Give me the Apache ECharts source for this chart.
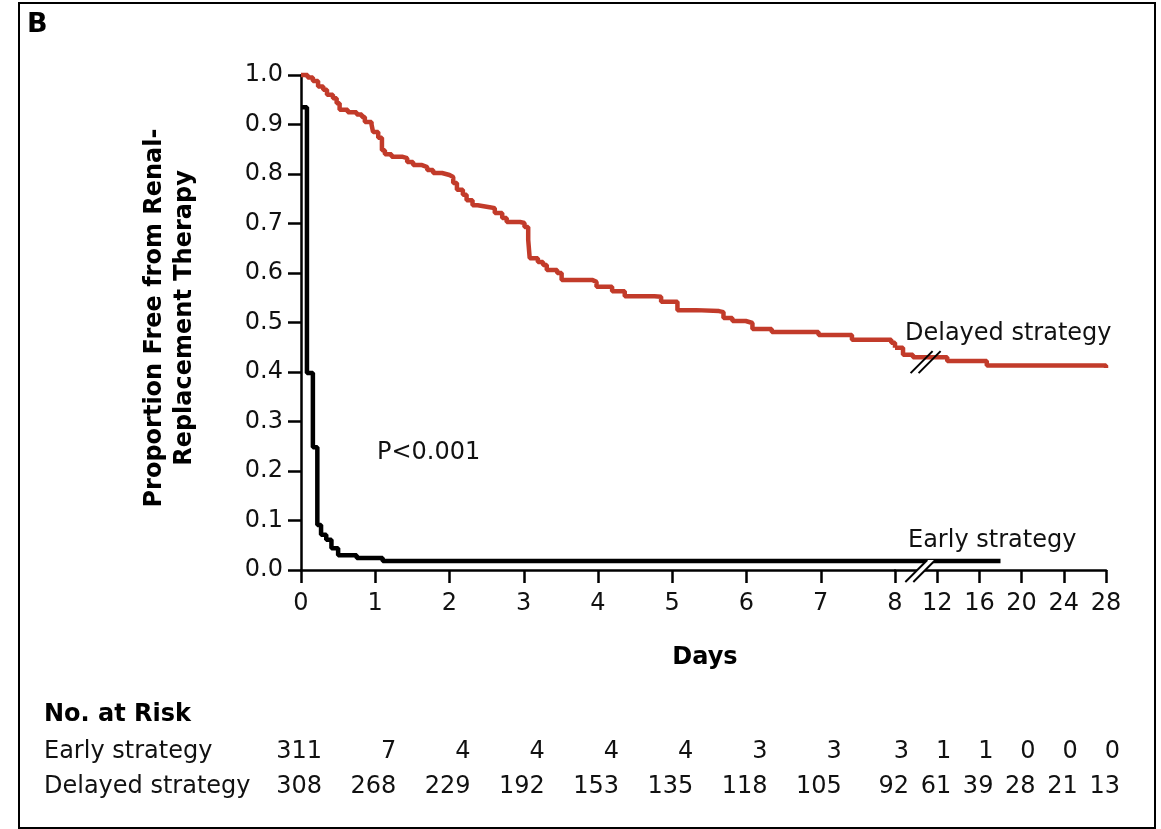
<!DOCTYPE html>
<html>
<head>
<meta charset="utf-8">
<script src="https://cdn.jsdelivr.net/npm/echarts@6/dist/echarts.min.js"></script>
<style>
html,body{margin:0;padding:0;background:#fff;}
#chart{width:1161px;height:829px;}
</style>
</head>
<body>
<div id="chart"></div>
<script>
// ---- Data ----
const riskDays = [0, 1, 2, 3, 4, 5, 6, 7, 8, 12, 16, 20, 24, 28];
const earlyAtRisk = [311, 7, 4, 4, 4, 4, 3, 3, 3, 1, 1, 0, 0, 0];
const delayedAtRisk = [308, 268, 229, 192, 153, 135, 118, 105, 92, 61, 39, 28, 21, 13];

// Kaplan-Meier points: [day of drop, proportion after drop]
const delayedCurve = [
  [0, 1.0], [0.09, 0.995], [0.16, 0.988], [0.23, 0.977], [0.30, 0.97], [0.35, 0.96],
  [0.43, 0.953], [0.48, 0.943], [0.52, 0.93], [0.63, 0.925], [0.75, 0.92], [0.82, 0.915],
  [0.86, 0.905], [0.95, 0.9], [0.97, 0.885], [1.04, 0.873], [1.09, 0.848], [1.13, 0.84],
  [1.22, 0.835], [1.36, 0.832], [1.43, 0.824], [1.51, 0.818], [1.63, 0.814], [1.70, 0.808],
  [1.78, 0.802], [1.90, 0.798], [2.0, 0.794], [2.05, 0.782], [2.10, 0.768], [2.18, 0.758],
  [2.23, 0.747], [2.31, 0.737], [2.38, 0.733], [2.54, 0.731], [2.61, 0.721], [2.71, 0.711],
  [2.77, 0.703], [2.95, 0.701], [3.01, 0.693], [3.06, 0.667], [3.08, 0.63], [3.19, 0.622],
  [3.26, 0.616], [3.31, 0.606], [3.45, 0.60], [3.51, 0.586], [3.92, 0.582], [3.98, 0.572],
  [4.19, 0.563], [4.36, 0.553], [4.76, 0.552], [4.85, 0.542], [5.07, 0.525], [5.32, 0.523],
  [5.63, 0.521], [5.69, 0.509], [5.81, 0.503], [5.99, 0.499], [6.08, 0.487], [6.34, 0.481],
  [6.97, 0.475], [7.42, 0.465], [7.95, 0.459], [8.0, 0.449], [8.76, 0.435], [9.7, 0.43],
  [12.95, 0.422], [16.7, 0.413], [28, 0.408]
];
const earlyCurve = [
  [0, 0.935], [0.08, 0.398], [0.16, 0.248], [0.22, 0.091],
  [0.27, 0.071], [0.34, 0.061], [0.41, 0.044], [0.5, 0.03], [0.75, 0.024], [1.1, 0.018],
  [18, 0.018]
];

const BREAK = 8;          // axis changes scale after day 8
const AXIS_BREAK_DAY = 10.4;
const CURVE_BREAK_DAY = 10.9;

const FONT = '"DejaVu Sans", sans-serif';
const FS = 24;
const TXT = '#111';
const RED = '#c23b2a';

function splitCurve(pts, b) {
  const left = [], right = [];
  let last = pts[0][1];
  for (const p of pts) {
    if (p[0] <= b) { left.push(p); last = p[1]; }
  }
  left.push([b, last]);
  right.push([b, last]);
  for (const p of pts) if (p[0] > b) right.push(p);
  return [left, right];
}
const [delL, delR] = splitCurve(delayedCurve, BREAK);
const [earL, earR] = splitCurve(earlyCurve, BREAK);

const chart = echarts.init(document.getElementById('chart'));

const axisLine = { lineStyle: { color: '#000', width: 2.5 } };
const axisTick = { inside: false, length: 13, lineStyle: { color: '#000', width: 2.5 } };
const axisLabel = { fontSize: FS, color: TXT, fontFamily: FONT, margin: 22 };

chart.setOption({
  animation: false,
  grid: [
    { left: 301, top: 75, width: 594, height: 495 },
    { left: 895, top: 75, width: 211, height: 495 }
  ],
  xAxis: [
    { type: 'value', gridIndex: 0, min: 0, max: BREAK, interval: 1,
      axisLine, axisTick, axisLabel, splitLine: { show: false } },
    { type: 'value', gridIndex: 1, min: BREAK, max: 28, interval: 4,
      axisLine, axisTick, axisLabel: Object.assign({}, axisLabel, { showMinLabel: false }),
      splitLine: { show: false } }
  ],
  yAxis: [
    { type: 'value', gridIndex: 0, min: 0, max: 1, interval: 0.1,
      axisLine: { show: true, lineStyle: { color: '#000', width: 2.5 } }, axisTick,
      axisLabel: Object.assign({}, axisLabel, { margin: 18, formatter: v => v.toFixed(1) }),
      splitLine: { show: false } },
    { type: 'value', gridIndex: 1, min: 0, max: 1, show: false, splitLine: { show: false } }
  ],
  series: [
    { type: 'line', xAxisIndex: 0, yAxisIndex: 0, data: delL, step: 'end', symbol: 'none',
      clip: false, lineStyle: { color: RED, width: 4.5 }, z: 3 },
    { type: 'line', xAxisIndex: 1, yAxisIndex: 1, data: delR, step: 'end', symbol: 'none',
      clip: false, lineStyle: { color: RED, width: 4.5 }, z: 3 },
    { type: 'line', xAxisIndex: 0, yAxisIndex: 0, data: earL, step: 'end', symbol: 'none',
      clip: false, lineStyle: { color: '#000', width: 4.5 }, z: 4 },
    { type: 'line', xAxisIndex: 1, yAxisIndex: 1, data: earR, step: 'end', symbol: 'none',
      clip: false, lineStyle: { color: '#000', width: 4.5 }, z: 4 }
  ]
});

function breakMark(cx, cy, eraseColor) {
  const h = 11, d = 4;
  const els = [];
  els.push({ type: 'polygon', z: 50, shape: { points: [
      [cx - d - h, cy + h], [cx - d + h, cy - h], [cx + d + h, cy - h], [cx + d - h, cy + h]] },
    style: { fill: eraseColor } });
  [-d, d].forEach(o => {
    els.push({ type: 'line', z: 51, shape: { x1: cx + o - h, y1: cy + h, x2: cx + o + h, y2: cy - h },
      style: { stroke: '#000', lineWidth: 2 } });
  });
  return els;
}

const gfx = [];
// frame
gfx.push({ type: 'rect', z: 0, shape: { x: 19, y: 3, width: 1136, height: 825 },
  style: { fill: 'none', stroke: '#000', lineWidth: 2 } });
gfx.push({ type: 'text', z: 60, style: { text: 'B', x: 27, y: 25, font: 'bold 27px ' + FONT, fill: '#000', verticalAlign: 'middle' } });
// y axis title
gfx.push({ type: 'text', z: 60, x: 170, y: 318, rotation: Math.PI / 2,
  style: { text: 'Proportion Free from Renal-\nReplacement Therapy', font: 'bold 24px ' + FONT, fill: '#000',
    align: 'center', verticalAlign: 'middle', lineHeight: 30 } });
// x axis title
gfx.push({ type: 'text', z: 60, style: { text: 'Days', x: 705, y: 658, font: 'bold 24px ' + FONT, fill: '#000', align: 'center', verticalAlign: 'middle' } });
// annotations
gfx.push({ type: 'text', z: 60, style: { text: 'P<0.001', x: 377, y: 453, font: FS + 'px ' + FONT, fill: TXT, verticalAlign: 'middle' } });
gfx.push({ type: 'text', z: 60, style: { text: 'Delayed strategy', x: 905, y: 334, font: FS + 'px ' + FONT, fill: TXT, verticalAlign: 'middle' } });
gfx.push({ type: 'text', z: 60, style: { text: 'Early strategy', x: 908, y: 541, font: FS + 'px ' + FONT, fill: TXT, verticalAlign: 'middle' } });

// break marks
const axPt = chart.convertToPixel({ gridIndex: 1 }, [AXIS_BREAK_DAY, 0]);
gfx.push(...breakMark(axPt[0], axPt[1] + 1, '#fff'));
const cvPt = chart.convertToPixel({ gridIndex: 1 }, [CURVE_BREAK_DAY, 0.42]);
gfx.push(...breakMark(cvPt[0], cvPt[1], 'rgba(0,0,0,0)'));

// risk table
gfx.push({ type: 'text', z: 60, style: { text: 'No. at Risk', x: 44, y: 715, font: 'bold 24px ' + FONT, fill: '#000', verticalAlign: 'middle' } });
const rows = [['Early strategy', earlyAtRisk, 752], ['Delayed strategy', delayedAtRisk, 787]];
rows.forEach(([label, vals, y]) => {
  gfx.push({ type: 'text', z: 60, style: { text: label, x: 44, y: y, font: FS + 'px ' + FONT, fill: TXT, verticalAlign: 'middle' } });
  riskDays.forEach((d, i) => {
    const gi = d <= BREAK ? 0 : 1;
    const px = chart.convertToPixel({ gridIndex: gi }, [d, 0])[0];
    const off = d < BREAK ? 21 : 14;
    gfx.push({ type: 'text', z: 60, style: { text: String(vals[i]), x: px + off, y: y, font: FS + 'px ' + FONT, fill: TXT, align: 'right', verticalAlign: 'middle' } });
  });
});

chart.setOption({ graphic: gfx });
</script>
</body>
</html>
